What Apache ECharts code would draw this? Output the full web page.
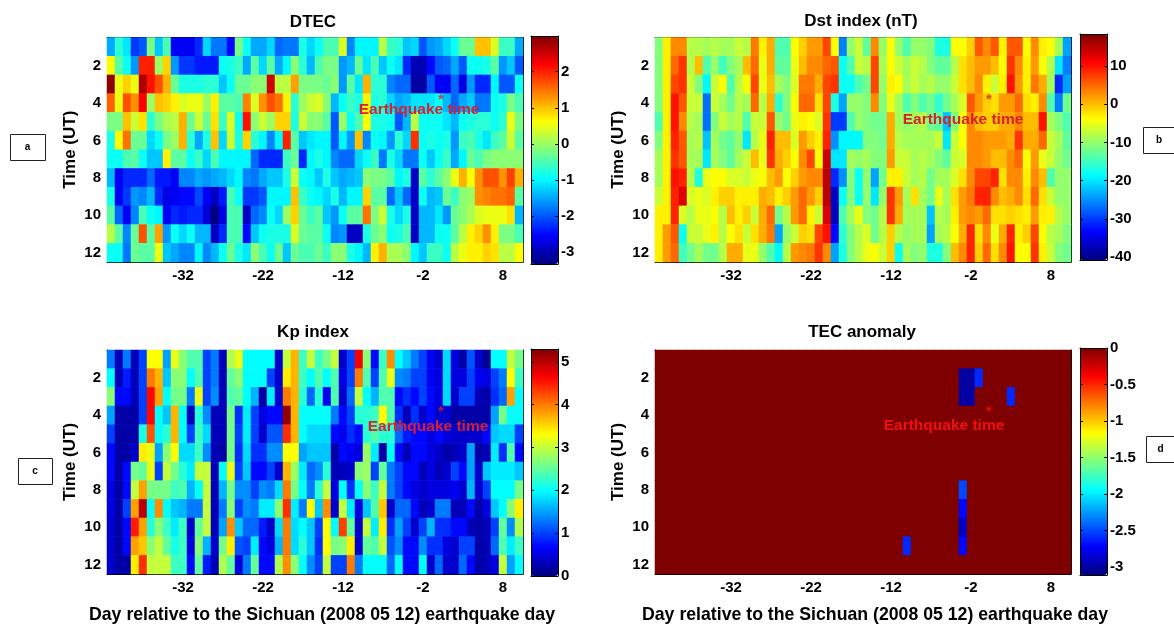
<!DOCTYPE html>
<html>
<head>
<meta charset="utf-8">
<title>Sichuan earthquake TEC</title>
<script src="https://cdn.jsdelivr.net/npm/echarts@6/dist/echarts.min.js"></script>
<style>
html, body { margin: 0; padding: 0; background: #fff; }
#chart { width: 1174px; height: 627px; }
</style>
</head>
<body>
<div id="chart"></div>
<script>
var days = [-41,-40,-39,-38,-37,-36,-35,-34,-33,-32,-31,-30,-29,-28,-27,-26,-25,-24,-23,-22,-21,-20,-19,-18,-17,-16,-15,-14,-13,-12,-11,-10,-9,-8,-7,-6,-5,-4,-3,-2,-1,0,1,2,3,4,5,6,7,8,9,10];
var hours = [1,2,3,4,5,6,7,8,9,10,11,12];
var dayTicks = [-32,-22,-12,-2,8];
var hourTicks = [2,4,6,8,10,12];
var quakeDay = 0;
var quakeHour = 4;

var dtecRows = [
	[-1.5,-.7,-1.1,-2.2,-2.0,-.2,-1.3,-.5,-2.6,-2.6, -2.6,-2.3,-1.2,-1.8,-1.8,-2.5,-.2,-.9,-1.5,-1.5, -1.2,-1.9,-1.8,-1.8,-.8,-1.2,-.9,-.5,-.5,.4, -1.7,-1.0,-1.0,-1.0,.2,-.6,-.7,-1.3,-1.2,-2.0, -1.6,-1.5,-1.2,-.9,-.3,-.3,1.0,1.0,.4,-.6, -.6,-1.5],
	[.6,-.4,-.9,-1.6,2.0,2.0,0,.9,-1.6,-2.2, -2.2,-2.4,-2.4,-2.4,-.9,-.8,-.6,-1.5,-.4,-1.2, -.4,-1.5,-1.0,-.1,-.7,-1.4,-.5,-.2,-.2,-1.6, -1.4,-.3,-1.1,-.5,-1.3,-.9,-1.1,-2.3,-3.0,-3.0, -2.5,-2.0,-1.9,-1.5,-2.0,-.9,-.9,-.8,-.4,-1.6, -1.3,-2.0],
	[2.9,.5,.9,.5,2.7,2.1,1.7,1.1,-.3,-.8, -.8,-.8,-.7,-.7,-1.3,-.9,-.3,-.3,-.1,-.1, 2.5,.2,.2,1.2,-.2,-.2,-.2,-.3,-.1,-1.6, -.4,-1.1,1.1,-.7,-.7,-1.7,-1.9,-1.9,-3.1,-3.1, -2.0,-2.6,-2.6,-1.9,-2.7,-1.6,-2.3,-2.3,-1.0,-2.0, -2.0,-.9],
	[1.6,.5,1.7,1.3,2.2,0,1.0,.9,.7,.4, .5,.5,0,.7,-.4,-.4,-.5,1.4,.4,1.3, 1.7,1.5,.7,-.7,0,.3,.4,-.1,-1.4,-.9, -.6,-.8,.7,-.8,-.7,-1.2,-1.5,-1.4,-1.1,-1.1, -1.1,-.9,-1.4,-1.9,-1.5,-1.3,-1.8,-1.8,-.9,-.8, -.2,-.5],
	[-.2,-.2,1.0,.3,.8,-.7,-.2,.1,.2,1.1, -.3,.3,-.3,.8,-.6,.4,-.9,2.1,-.1,.3, 0,.9,.9,-.8,.3,-.1,-.1,-.4,-2.0,0, -.9,-.5,.6,-.8,-.8,-.9,-2.0,-1.4,.2,-.9, -.9,-.9,-1.1,-1.4,-.9,-.8,-.7,-.7,-.9,-.7, .5,-.2],
	[-.8,.6,1.5,-.3,-.3,-1.2,-.9,-.2,0,1.1, -.7,-1.5,-.8,1.0,-1.2,.3,-.8,.9,-.7,-1.0, -1.7,-1.0,2.0,-.4,-1.3,-1.1,-1.0,-1.0,-2.0,-1.0, -1.6,1.0,-1.7,-.9,-1.0,-1.6,-.7,-1.2,1.9,-.9, -.8,-.9,-.8,-1.6,-.6,-.5,-.8,-1.1,-.6,-.4, .3,-.4],
	[-.9,-.9,-.5,-.4,-.9,-1.3,-1.3,.7,-.4,-.4, -.9,-.6,-1.2,-.5,-1.0,-1.0,-1.0,-1.0,-1.9,-2.3, -2.3,-2.3,-.6,-.3,-2.3,-1.0,-.8,-1.0,-1.7,-1.9, -1.9,-1.2,-.9,-.6,-1.8,-.8,-1.2,-1.8,-1.8,-.9, -1.3,-.9,-.6,-1.5,-1.0,-.3,-.5,-.2,-.1,-.1, -.1,-.1],
	[-1.4,-2.6,-2.3,-2.3,-2.3,-1.9,-2.4,-2.4,-2.6,-1.7, -1.7,-1.5,-1.6,-1.5,-1.4,-1.2,-1.0,-1.7,-1.8,-1.5, -1.3,-1.3,-.8,.3,-.9,-1.0,-1.3,-.8,-1.3,-1.5, -1.4,-1.3,-.1,-.2,-.2,-.4,-1.0,-.8,-2.9,-.4, -.7,-.4,-.1,.5,1.1,.6,1.3,1.7,1.7,1.3, 1.8,1.1],
	[-.8,-2.6,-2.2,-1.6,-1.7,-1.4,-2.3,-2.7,-2.6,-2.5, -2.5,-2.1,-2.6,-2.9,-2.4,-.5,-.9,-2.2,-2.2,-2.0, -1.0,-1.0,-1.0,1.0,-.6,-.9,-1.0,-1.2,-.8,-1.4, -1.0,-1.0,.9,-.4,-.4,-1.9,-1.3,-1.9,-2.9,-.9, -1.4,-1.3,-.3,-.6,-.1,0,1.3,1.4,1.5,1.5, 1.6,-.4],
	[-.4,-1.9,-2.6,-1.7,-.5,-.9,-1.0,-2.6,-2.3,-2.4, -2.3,-2.3,-2.8,-3.3,-2.7,-.5,-.5,-2.9,-1.9,-1.7, -.9,-1.2,0,.9,-.3,-.6,-.4,-1.3,-1.6,-.9, -.4,-.4,1.5,-.2,.3,-.8,-1.2,-.8,-2.9,-1.4, -1.4,-1.1,-1.6,-.3,-.1,.1,.4,.5,.5,.5, .8,-1.4],
	[.2,-.4,-1.7,-.3,1.7,-.4,1.2,-1.6,-.9,-1.2, -.9,-1.4,-1.4,-2.9,-2.3,-.5,-.5,-2.5,-1.3,-.9, -.8,-.8,-.8,.4,-.3,-.4,-.4,-.9,-1.7,-1.6, -2.9,-2.9,-.8,-.3,-.1,-.9,-.8,-.5,-2.9,-1.4, -1.4,-.9,-.9,-.4,.2,.7,.9,1.3,.7,-.2, -.2,-.5],
	[-.9,-.9,-1.8,-.3,-.4,-.4,.5,-1.3,-1.5,-1.7, -1.7,-1.0,-1.7,-1.4,-.9,-.3,-.8,-1.1,-.1,-.5, -.9,-.3,-1.3,-.3,-.5,-.5,-.3,-.6,-.1,-.1, -.8,-1.0,-1.4,.7,1.1,.1,.1,-.1,-1.0,-1.3, -.6,-.6,-.9,.2,.5,.7,.7,.9,.8,.2, .2,.6]
];

var dstRows = [
	[-11,-3,3,3,-8,-8,-9,-8,-9,-9, -7,-8,4,-3,1,-14,-14,-4,-1,2, 2,7,-4,-26,-10,-7,-13,3,-10,-4, -10,-14,-10,-10,-11,-17,-17,-4,-4,-1, 6,3,6,-3,6,6,-4,3,-3,-4, -9,-24],
	[-11,-3,5,8,-8,0,-14,-10,-15,-11, -9,0,5,-5,1,-13,-13,-5,0,3, 3,5,6,-18,-14,-7,-8,7,-9,-4, -7,-9,-7,-8,-11,-13,-13,-8,-2,0, 2,2,0,-4,8,3,-3,2,-4,-8, -20,-26],
	[-11,-3,7,8,-7,-11,-19,-7,-4,-14, -8,-4,7,-5,0,-9,-11,-6,4,4, 1,7,8,-18,-18,-14,-12,7,-10,-3, -4,-9,-7,-9,-8,-10,-10,-7,-2,0, 3,-3,-7,-3,10,2,-3,4,1,-9, -31,-24],
	[-11,-3,10,6,-7,-7,-27,-7,-9,-12, -8,-9,5,-8,1,-16,-11,-4,5,5, -2,7,-17,-24,-10,-10,-11,3,-11,-5, -9,-14,-11,-14,-12,-16,-12,-9,-6,6, 2,-1,-2,2,2,5,-2,-3,3,-14, -26,-12],
	[-14,-3,10,3,-8,-9,-27,-11,-7,-9, -8,-14,-7,-7,6,-10,-12,-5,-3,-4, -6,8,-30,-30,-14,-10,-11,-12,-12,1, -9,-10,-9,-8,-12,-13,-22,-11,-4,3, 0,-1,-1,1,1,3,0,0,10,-9, -11,-14],
	[-11,-3,9,6,-9,-8,-22,-9,-12,-13, -10,-20,-8,-5,9,0,0,-6,2,-1, -3,9,-25,-19,-19,-19,-11,-11,-12,1, -8,-9,-9,-9,-9,-7,-20,-7,-4,3, 3,2,2,2,1,8,1,1,5,-7, -9,-13],
	[-9,-3,8,6,-9,-9,-20,-9,-11,-13, -9,-7,0,-5,8,1,-1,-4,3,7, -4,14,-20,-20,-9,-10,-9,-11,-11,2, -7,-7,-9,-8,-9,-11,-13,-7,-6,3, 3,2,0,0,3,5,-4,2,-5,-7, -10,-12],
	[-9,-3,10,9,-8,-17,-5,-4,-4,-6, -6,-7,-5,-4,0,2,-4,-1,2,3, 3,15,-31,-25,-11,-18,-10,-24,-12,-3, -3,-7,-9,-8,-12,-9,-9,-6,-2,3, 7,7,9,-2,3,3,-3,3,0,-14, -10,-10],
	[-7,-3,9,13,-6,-5,-6,-3,-1,-1, -3,-3,-3,1,0,-3,-1,2,5,2, -1,15,-37,-18,-11,-18,-10,-20,-10,8, 2,-9,-2,-9,-12,-5,-9,-2,2,4, 9,9,3,0,1,3,-2,5,-2,-7, -10,-10],
	[-3,-3,9,-6,-8,-5,-5,-4,-8,0, -3,-1,-7,1,5,-12,-8,2,5,-3, -7,13,-37,-14,-9,-5,-11,-12,-8,8, 1,-9,-9,-9,-22,-8,-9,-3,2,3, 2,5,-2,-2,-1,-2,-3,2,-3,-3, -8,-10],
	[-3,2,6,-18,-7,-7,-5,-3,-8,-4, -2,-7,-2,1,4,-24,-10,-7,-1,-2, 7,10,-33,-16,-11,-8,-6,-12,-8,-1, -8,-10,-9,-9,-24,-9,-8,-4,1,9, -2,3,-5,1,9,-3,-1,7,-4,-8, -9,-11],
	[-3,2,5,-15,-12,-9,-12,-12,-8,1, 1,-5,-5,-10,-14,-19,-8,2,3,4, 8,3,-24,-17,-11,-8,-5,-4,-7,-1, -18,-9,-11,-10,-17,-17,-11,0,3,9, -1,5,-2,3,10,-4,-4,8,-3,-7, -11,-12]
];

var kpRows = [
	[1.3,.3,1.3,.3,1.0,3.3,3.3,1.5,3.2,2.7, 2.4,2.4,1.0,1.3,.3,2.9,3.2,2.0,2.0,2.0, 2.0,.4,3.0,3.7,2.3,3.0,2.3,2.6,3.0,.4, 1.0,4.7,2.7,.7,2.3,3.9,2.0,1.7,1.3,1.0, .6,.4,1.8,.5,.2,1.1,.4,.1,2.0,2.0, 3.0,2.6],
	[2,.3,.8,.3,1,4,3.7,1.7,2.7,2.7, 2,2.4,1,1.3,.3,2.5,2.7,2,2,2, 1,.4,3.4,3.7,2.3,2,2.4,2,2.4,.5, 1,4,2.4,1,2.4,3.2,1.4,1.3,1,1, .6,.5,1.8,.5,.5,1,.6,.5,1.0,1.3, 3.3,2.3],
	[2.7,.7,.7,.3,1,4.6,3.8,2,2.6,2.6, 1.3,3.2,1,1.4,.3,2.4,2.5,2,1.6,.2, 1.9,.4,4,3.7,2.2,1.2,2.2,.6,2.4,.4, 1.2,3,2,1.6,2.4,2.4,.7,.9,.7,1, .7,.5,1.8,.4,1,1,.3,.2,.9,1.2, 3.8,2],
	[1.5,.2,.2,.2,1,4.6,2,1.7,3.7,2, .3,2.2,1.4,.3,.3,2.6,.9,1.9,1,.5, .7,.7,5.2,3.7,2,2,2,2,1.3,.7, 1,2.2,2.2,2.3,3.3,2.4,.9,.3,.9,.4, .7,.4,.4,.2,.2,.2,.2,.2,1.5,2.6, 2,2],
	[1,.2,.2,.2,2.1,4.2,2,2.2,3.7,2, 1,2.3,1.8,.3,.3,2.6,1,1.9,1,.4, 1.1,1.1,4.4,3.7,2,1.8,1.8,1.8,.7,.6, .9,.7,2.2,2.4,2.2,2.2,1.2,.8,.7,.7, .5,.7,.5,.4,.4,.4,.4,.7,1.7,1.8, 1.8,1],
	[.7,.2,.2,.4,3.4,3.2,1.5,2.7,3.3,1.8, 1.8,2.3,1.4,.3,.2,2.6,.9,1.8,.9,.9, 1.4,1.4,3.3,3.3,1.5,1.7,1.7,1.7,.2,.7, .6,.5,2.8,1.9,.2,2,.7,.3,.7,.7, .5,.4,.2,.3,.4,1.5,.2,.3,1.9,.9, 2.4,.7],
	[.7,.2,.7,2.6,2.5,3.2,1,3,2.6,2.2, 1.9,3,3,.3,2,3.2,1,1.7,.7,.7, 1,.4,3.7,2.8,1.9,1.2,1.4,2.2,.3,.3, .4,2.7,2.8,1,2.5,1.3,1,.7,.7,.3, .5,.3,.4,1,.7,1.5,.4,1.7,1.9,1.9, 1.9,1.7],
	[.5,.2,.7,3,3.8,2.6,2.6,2.6,2.3,2.4, 1.6,2,3,.3,1.6,2.6,1.4,1.4,1,1.4, 1.3,1.8,4,2.6,2,1.3,2.2,3,.5,2, .9,2,2.7,2.3,3,1.3,1,.7,.5,.4, .5,.5,.5,.6,.4,1.6,.4,1,2,2, 2,2.6],
	[.5,.2,1,3.8,5,2,3.9,2,1.7,1.6, 1.3,1.3,3,.3,1.3,2.7,1,1.4,1.3,1.9, 1.9,2.7,4.4,1.9,1.3,3.3,1.7,3.9,.4,3, 1.9,.5,1.7,2.4,3.6,.4,1.2,1.2,.7,.3, .4,1.3,1.3,.3,.3,.7,.2,.5,1.7,2, 2.7,3.4],
	[.4,.2,.7,4.5,3.8,2.2,2.7,2.3,1.9,2.3, .4,2.5,3,.3,1.5,3.9,1.7,1.2,1.2,.8, .4,1.8,4,1.8,2,1.7,1,3.3,2,4.3, 2.5,.4,3,1.9,3.4,.9,1.5,1,.4,1, 1.6,.9,.9,.7,.7,.3,.2,.3,1,2.5, 1.4,2.9],
	[.4,.2,.7,3.8,3.6,2.7,3,2.5,2.1,2.3, .5,2.7,1.6,.4,2.6,3.4,1.1,1,1.9,.7, .5,1.6,4,1.8,2.2,1.7,.9,3.3,2.6,2.7, 3.4,.4,2.5,2.4,3,1.1,1.4,.7,.7,1.4, .9,.9,.5,.4,1,1,.2,.3,1.2,2.4, 1.9,2.3],
	[.4,.2,.2,3.4,4.4,3,3,3,2.3,2.3, .7,2.5,.8,.3,2.9,2.5,.5,1.3,2.5,.7, .7,2.9,3.9,2.7,2,1.4,1,3,1,1, 4,1.3,2,2,2,1.2,2,.7,.7,2, .4,1.2,.4,.4,1.2,.7,.2,.3,.5,3, 1.5,2]
];

var anomalyRows = [
	[0,0,0,0,0,0,0,0,0,0, 0,0,0,0,0,0,0,0,0,0, 0,0,0,0,0,0,0,0,0,0, 0,0,0,0,0,0,0,0,0,0, 0,0,0,0,0,0,0,0,0,0, 0,0],
	[0,0,0,0,0,0,0,0,0,0, 0,0,0,0,0,0,0,0,0,0, 0,0,0,0,0,0,0,0,0,0, 0,0,0,0,0,0,0,0,-3,-3, -2.6,0,0,0,0,0,0,0,0,0, 0,0],
	[0,0,0,0,0,0,0,0,0,0, 0,0,0,0,0,0,0,0,0,0, 0,0,0,0,0,0,0,0,0,0, 0,0,0,0,0,0,0,0,-3,-3, 0,0,0,0,-2.6,0,0,0,0,0, 0,0],
	[0,0,0,0,0,0,0,0,0,0, 0,0,0,0,0,0,0,0,0,0, 0,0,0,0,0,0,0,0,0,0, 0,0,0,0,0,0,0,0,0,0, 0,0,0,0,0,0,0,0,0,0, 0,0],
	[0,0,0,0,0,0,0,0,0,0, 0,0,0,0,0,0,0,0,0,0, 0,0,0,0,0,0,0,0,0,0, 0,0,0,0,0,0,0,0,0,0, 0,0,0,0,0,0,0,0,0,0, 0,0],
	[0,0,0,0,0,0,0,0,0,0, 0,0,0,0,0,0,0,0,0,0, 0,0,0,0,0,0,0,0,0,0, 0,0,0,0,0,0,0,0,0,0, 0,0,0,0,0,0,0,0,0,0, 0,0],
	[0,0,0,0,0,0,0,0,0,0, 0,0,0,0,0,0,0,0,0,0, 0,0,0,0,0,0,0,0,0,0, 0,0,0,0,0,0,0,0,0,0, 0,0,0,0,0,0,0,0,0,0, 0,0],
	[0,0,0,0,0,0,0,0,0,0, 0,0,0,0,0,0,0,0,0,0, 0,0,0,0,0,0,0,0,0,0, 0,0,0,0,0,0,0,0,-2.5,0, 0,0,0,0,0,0,0,0,0,0, 0,0],
	[0,0,0,0,0,0,0,0,0,0, 0,0,0,0,0,0,0,0,0,0, 0,0,0,0,0,0,0,0,0,0, 0,0,0,0,0,0,0,0,-2.7,0, 0,0,0,0,0,0,0,0,0,0, 0,0],
	[0,0,0,0,0,0,0,0,0,0, 0,0,0,0,0,0,0,0,0,0, 0,0,0,0,0,0,0,0,0,0, 0,0,0,0,0,0,0,0,-2.9,0, 0,0,0,0,0,0,0,0,0,0, 0,0],
	[0,0,0,0,0,0,0,0,0,0, 0,0,0,0,0,0,0,0,0,0, 0,0,0,0,0,0,0,0,0,0, 0,-2.6,0,0,0,0,0,0,-2.7,0, 0,0,0,0,0,0,0,0,0,0, 0,0],
	[0,0,0,0,0,0,0,0,0,0, 0,0,0,0,0,0,0,0,0,0, 0,0,0,0,0,0,0,0,0,0, 0,0,0,0,0,0,0,0,0,0, 0,0,0,0,0,0,0,0,0,0, 0,0]
];

var dtecBarTicks = [-3,-2,-1,0,1,2];
var dstBarTicks = [-40,-30,-20,-10,0,10];
var kpBarTicks = [0,1,2,3,4,5];
var anomalyBarTicks = [-3,-2.5,-2,-1.5,-1,-0.5,0];

var jet = ['#00007f','#0000ff','#007fff','#00ffff','#7fff7f','#ffff00','#ff7f00','#ff0000','#7f0000'];
var fontName = '"Liberation Sans", Arial, sans-serif';
var xName = 'Day relative to the Sichuan (2008 05 12) earthquake day';

var panels = [
	{ title : 'DTEC', rows : dtecRows, min : -3.33, max : 2.99, barTicks : dtecBarTicks, left : 107, top : 37.5, width : 416, height : 224.5, barLeft : 531, barTop : 36, barHeight : 228, labelX : 419, labelY : 110, labelColor : '#d8202e', xName : '', namePad : 0, gridColor : 'transparent', titleX : 313, titleY : 24 },
	{ title : 'Dst index (nT)', rows : dstRows, min : -40.8, max : 18.4, barTicks : dstBarTicks, left : 655, top : 37.5, width : 416, height : 224.5, barLeft : 1080, barTop : 34, barHeight : 226, labelX : 963, labelY : 120, labelColor : '#d8202e', xName : '', namePad : 0, gridColor : 'transparent', titleX : 861, titleY : 23 },
	{ title : 'Kp index', rows : kpRows, min : 0, max : 5.3, barTicks : kpBarTicks, left : 107, top : 350, width : 416, height : 224, barLeft : 531, barTop : 349, barHeight : 227, labelX : 428, labelY : 427, labelColor : '#d8202e', xName : xName, namePad : 14, gridColor : 'transparent', titleX : 313, titleY : 334 },
	{ title : 'TEC anomaly', rows : anomalyRows, min : -3.11, max : 0, barTicks : anomalyBarTicks, left : 655, top : 350, width : 416, height : 224, barLeft : 1080, barTop : 348, barHeight : 227, labelX : 944, labelY : 426, labelColor : '#f01010', xName : xName, namePad : 24, gridColor : '#7f0000', titleX : 862, titleY : 334 }
];

var letterBoxes = [
	{ text : 'a', x : 10, y : 134, w : 35, h : 26 },
	{ text : 'b', x : 1143, y : 127, w : 32, h : 26 },
	{ text : 'c', x : 18, y : 458, w : 34, h : 26 },
	{ text : 'd', x : 1146, y : 436, w : 29, h : 26 }
];

function toCells(rows) {
	var cells = [];
	rows.forEach(function(row, r) {
		row.forEach(function(v, c) {
			cells.push([ c, r, v ]);
		});
	});
	return cells;
}

var labelStyle = {
	color : '#000',
	fontFamily : fontName,
	fontWeight : 'bold',
	fontSize : 15
};

function tickFilter(list) {
	return function(index, value) {
		return list.indexOf(Number(value)) != -1;
	};
}

var option = {
	backgroundColor : '#fff',
	animation : false,
	title : [],
	grid : [],
	xAxis : [],
	yAxis : [],
	visualMap : [],
	series : [],
	graphic : []
};

var axisLine = { show : true, onZero : false, lineStyle : { color : '#000', width : 1 } };

panels.forEach(function(p, i) {
	option.title.push({
		text : p.title,
		left : p.titleX,
		top : p.titleY - 10,
		textAlign : 'center',
		padding : 0,
		textStyle : { color : '#000', fontFamily : fontName, fontWeight : 'bold', fontSize : 17 }
	});

	option.grid.push({ left : p.left, top : p.top, width : p.width, height : p.height, show : true, borderWidth : 0, backgroundColor : p.gridColor });

	var xTick = { show : true, inside : true, length : 3, alignWithLabel : true, interval : tickFilter(dayTicks), lineStyle : { color : '#000' } };
	var yTick = { show : true, inside : true, length : 3, alignWithLabel : true, interval : tickFilter(hourTicks), lineStyle : { color : '#000' } };

	option.xAxis.push({
		type : 'category', gridIndex : i, position : 'bottom', data : days.map(String),
		name : p.xName, nameLocation : 'middle', nameGap : 32,
		nameTextStyle : { color : '#000', fontFamily : fontName, fontWeight : 'bold', fontSize : 17.7, padding : [ 0, 0, 0, p.namePad ] },
		axisLine : axisLine, axisTick : xTick,
		axisLabel : Object.assign({ interval : tickFilter(dayTicks), margin : 6 }, labelStyle),
		splitLine : { show : false }
	});
	option.xAxis.push({
		type : 'category', gridIndex : i, position : 'top', data : days.map(String),
		axisLine : axisLine, axisTick : xTick, axisLabel : { show : false }, splitLine : { show : false }
	});
	option.yAxis.push({
		type : 'category', gridIndex : i, position : 'left', inverse : true, data : hours.map(String),
		name : 'Time (UT)', nameLocation : 'middle', nameGap : 28, nameRotate : 90,
		nameTextStyle : { color : '#000', fontFamily : fontName, fontWeight : 'bold', fontSize : 17 },
		axisLine : axisLine, axisTick : yTick,
		axisLabel : Object.assign({ interval : tickFilter(hourTicks), margin : 6 }, labelStyle),
		splitLine : { show : false }
	});
	option.yAxis.push({
		type : 'category', gridIndex : i, position : 'right', inverse : true, data : hours.map(String),
		axisLine : axisLine, axisTick : yTick, axisLabel : { show : false }, splitLine : { show : false }
	});

	option.visualMap.push({
		type : 'continuous',
		seriesIndex : i,
		min : p.min,
		max : p.max,
		left : p.barLeft,
		top : p.barTop,
		itemWidth : 27,
		itemHeight : p.barHeight,
		padding : 0,
		calculable : false,
		hoverLink : false,
		text : null,
		inRange : { color : jet }
	});

	option.series.push({
		type : 'heatmap',
		xAxisIndex : i * 2,
		yAxisIndex : i * 2,
		data : toCells(p.rows),
		progressive : 0,
		itemStyle : { borderWidth : 0 },
		z : 1
	});
});

// colorbars: an empty grid over each visualMap bar only for the ticks and labels
panels.forEach(function(p, i) {
	var g = panels.length + i;
	option.grid.push({ left : p.barLeft, top : p.barTop, width : 27, height : p.barHeight, z : 10 });
	option.xAxis.push({ type : 'value', gridIndex : g, position : 'bottom', min : 0, max : 1, z : 10, axisLine : axisLine, axisTick : { show : false }, axisLabel : { show : false }, splitLine : { show : false } });
	option.xAxis.push({ type : 'value', gridIndex : g, position : 'top', min : 0, max : 1, z : 10, axisLine : axisLine, axisTick : { show : false }, axisLabel : { show : false }, splitLine : { show : false } });
	var tick = { show : true, inside : true, length : 3, customValues : p.barTicks, lineStyle : { color : '#000' } };
	option.yAxis.push({
		type : 'value', gridIndex : g, position : 'right', min : p.min, max : p.max, z : 10,
		axisLine : axisLine, axisTick : tick,
		axisLabel : Object.assign({ customValues : p.barTicks, margin : 3, hideOverlap : false, showMinLabel : true, showMaxLabel : true }, labelStyle),
		splitLine : { show : false }
	});
	option.yAxis.push({
		type : 'value', gridIndex : g, position : 'left', min : p.min, max : p.max, z : 10,
		axisLine : axisLine, axisTick : tick, axisLabel : { show : false }, splitLine : { show : false }
	});
});

// earthquake star sits on its day/hour cell, text label is placed as in the figure
panels.forEach(function(p, i) {
	option.series.push({
		type : 'scatter',
		xAxisIndex : i * 2,
		yAxisIndex : i * 2,
		data : [ [ days.indexOf(quakeDay), hours.indexOf(quakeHour) ] ],
		symbolSize : 1,
		itemStyle : { color : 'transparent' },
		silent : true,
		z : 3,
		label : {
			show : true,
			position : 'inside',
			formatter : '*',
			offset : [ 2, -3 ],
			color : p.labelColor,
			fontFamily : fontName,
			fontWeight : 'bold',
			fontSize : 15
		}
	});
	option.graphic.push({
		type : 'text',
		z : 100,
		style : {
			text : 'Earthquake time',
			x : p.labelX,
			y : p.labelY,
			align : 'center',
			verticalAlign : 'middle',
			fill : p.labelColor,
			font : 'bold 15.5px ' + fontName
		}
	});
});

letterBoxes.forEach(function(b) {
	option.graphic.push({
		type : 'rect',
		shape : { x : b.x + 0.5, y : b.y + 0.5, width : b.w, height : b.h },
		style : { fill : '#fff', stroke : '#222', lineWidth : 1 }
	});
	option.graphic.push({
		type : 'text',
		style : {
			text : b.text,
			x : b.x + b.w / 2,
			y : b.y + b.h / 2,
			align : 'center',
			verticalAlign : 'middle',
			fill : '#000',
			font : 'bold 10px ' + fontName
		}
	});
});

var chart = echarts.init(document.getElementById('chart'), null, { renderer : 'canvas' });
chart.setOption(option);
</script>
</body>
</html>
